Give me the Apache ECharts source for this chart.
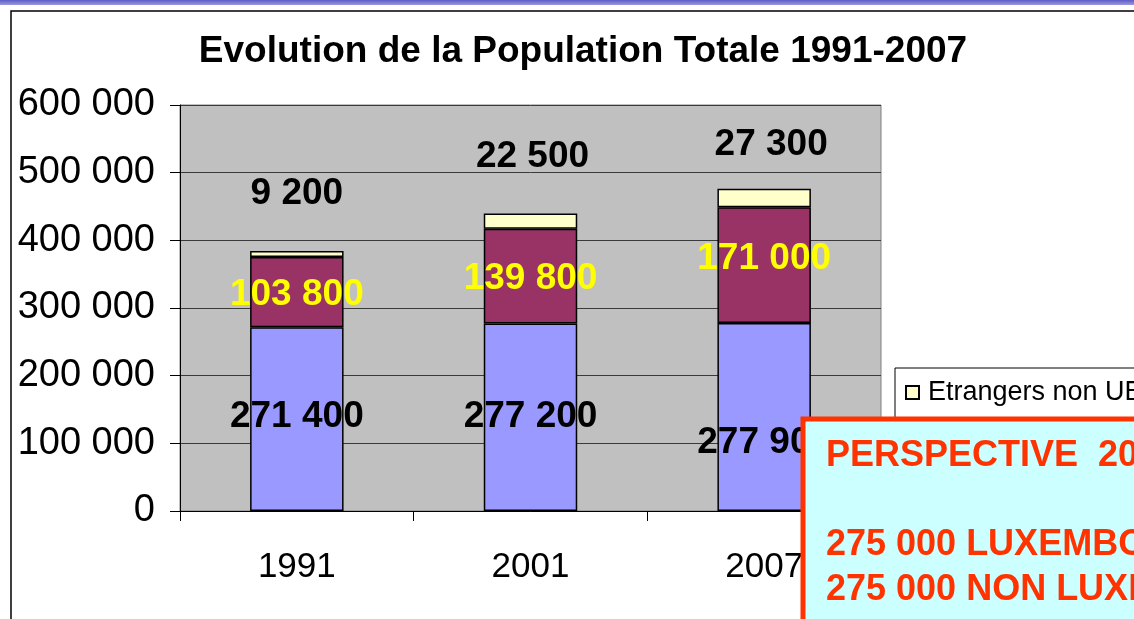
<!DOCTYPE html>
<html>
<head>
    <meta charset="UTF-8">
    <title>Evolution de la Population Totale 1991-2007</title>
    <script src="https://cdn.jsdelivr.net/npm/echarts@6/dist/echarts.min.js"></script>
    <style>
        html, body { margin: 0; padding: 0; background: #fff; }
        #chart { width: 1134px; height: 619px; }
    </style>
</head>
<body>
    <div id="chart"></div>

    <script>
        // données
        const annees = ['1991', '2001', '2007'];
        const luxembourgeois = [271400, 277200, 277900];
        const etrangersUE = [103800, 139800, 171000];
        const etrangersNonUE = [9200, 22500, 27300];
        const yTicks = [0, 100000, 200000, 300000, 400000, 500000, 600000];

        // décalage des étiquettes (déplacées à la main dans l'original)
        const luxShift = [[0, -2], [0, 0], [0, 26]];
        const ueShift = [[0, 3], [0, 3], [0, -6]];
        const nonUeShift = [[0, -60], [2, -64], [7, -53]];

        const FONT = '"Liberation Sans", Arial, sans-serif';
        const fmt = v => String(v).replace(/\B(?=(\d{3})+(?!\d))/g, ' ');

        const chart = echarts.init(document.getElementById('chart'));

        function withShift(values, shifts) {
            return values.map((v, i) => ({ value: v, label: { offset: shifts[i] } }));
        }

        const labelBase = {
            show: true,
            position: 'inside',
            fontFamily: FONT,
            fontWeight: 'bold',
            fontSize: 37,
            formatter: p => fmt(p.value)
        };

        const option = {
            animation: false,
            title: {
                text: 'Evolution de la Population Totale 1991-2007',
                left: 583,
                top: 33,
                padding: 0,
                textAlign: 'center',
                textStyle: { fontFamily: FONT, fontWeight: 'bold', fontSize: 37, color: '#000' }
            },
            grid: {
                left: 180, right: 253, top: 105, bottom: 108,
                show: true,
                backgroundColor: '#c0c0c0',
                borderColor: '#808080',
                borderWidth: 1
            },
            legend: {
                orient: 'vertical',
                left: 895,
                top: 368,
                padding: [11, 14, 11, 10],
                itemGap: 10,
                itemWidth: 13,
                itemHeight: 13,
                icon: 'rect',
                backgroundColor: '#fff',
                borderColor: '#000',
                borderWidth: 1,
                data: ['Etrangers non UE', 'Etrangers UE', 'Luxembourgeois'],
                textStyle: { fontFamily: FONT, fontSize: 27, color: '#000', padding: [0, 0, 0, 4] }
            },
            xAxis: {
                type: 'category',
                data: annees,
                axisLine: { lineStyle: { color: '#000', width: 1 } },
                axisTick: { show: true, length: 10, lineStyle: { color: '#000' } },
                axisLabel: { fontFamily: FONT, fontSize: 35, color: '#000', margin: 39 }
            },
            yAxis: {
                type: 'value',
                min: yTicks[0],
                max: yTicks[yTicks.length - 1],
                interval: yTicks[1] - yTicks[0],
                axisLine: { show: true, lineStyle: { color: '#000', width: 1 } },
                axisTick: { show: true, length: 10, lineStyle: { color: '#000' } },
                splitLine: { show: true, lineStyle: { color: '#3a3a3a', width: 1 } },
                axisLabel: {
                    fontFamily: FONT, fontSize: 38, color: '#000', margin: 25,
                    formatter: v => fmt(v)
                }
            },
            series: [
                {
                    name: 'Luxembourgeois',
                    type: 'bar',
                    stack: 'total',
                    barWidth: '40%',
                    itemStyle: { color: '#9999ff', borderColor: '#000', borderWidth: 1.5 },
                    label: Object.assign({}, labelBase, { color: '#000' }),
                    data: withShift(luxembourgeois, luxShift)
                },
                {
                    name: 'Etrangers UE',
                    type: 'bar',
                    stack: 'total',
                    barWidth: '40%',
                    itemStyle: { color: '#993366', borderColor: '#000', borderWidth: 1.5 },
                    label: Object.assign({}, labelBase, { color: '#ffff00' }),
                    data: withShift(etrangersUE, ueShift)
                },
                {
                    name: 'Etrangers non UE',
                    type: 'bar',
                    stack: 'total',
                    barWidth: '40%',
                    itemStyle: { color: '#ffffcc', borderColor: '#000', borderWidth: 1.5 },
                    label: Object.assign({}, labelBase, { color: '#000' }),
                    data: withShift(etrangersNonUE, nonUeShift)
                }
            ],
            graphic: [
                // bandeau violet en haut de la diapositive
                {
                    type: 'rect', z: 100,
                    shape: { x: 0, y: 0, width: 1134, height: 5 },
                    style: {
                        fill: new echarts.graphic.LinearGradient(0, 0, 0, 1, [
                            { offset: 0, color: '#5c5cc4' },
                            { offset: 1, color: '#9a9ae0' }
                        ])
                    }
                },
                // cadre du graphique
                {
                    type: 'polyline', z: 100,
                    shape: { points: [[11, 619], [11, 11], [1134, 11]] },
                    style: { stroke: '#000', lineWidth: 1.5, fill: null }
                },
                // encadré "perspective"
                {
                    type: 'rect', z: 100,
                    shape: { x: 803, y: 419, width: 420, height: 260 },
                    style: { fill: '#ccffff', stroke: '#ff3300', lineWidth: 5 }
                },
                {
                    type: 'text', z: 101, left: 826, top: 438,
                    style: {
                        text: 'PERSPECTIVE  2020', fill: '#ff3300',
                        font: 'bold 36px ' + FONT
                    }
                },
                {
                    type: 'text', z: 101, left: 826, top: 527,
                    style: {
                        text: '275 000 LUXEMBOURGEOIS', fill: '#ff3300',
                        font: 'bold 36px ' + FONT
                    }
                },
                {
                    type: 'text', z: 101, left: 826, top: 572,
                    style: {
                        text: '275 000 NON LUXEMBOURGEOIS', fill: '#ff3300',
                        font: 'bold 36px ' + FONT
                    }
                }
            ]
        };

        chart.setOption(option);
    </script>
</body>
</html>
